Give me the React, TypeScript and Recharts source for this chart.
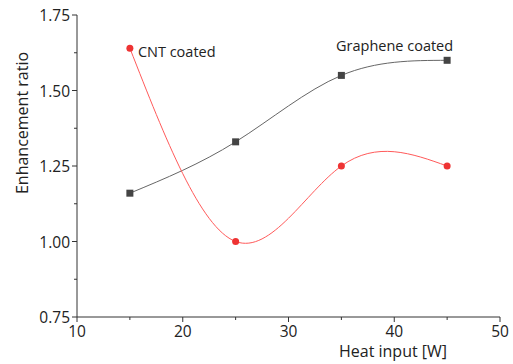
import { LineChart, Line, XAxis, YAxis, ReferenceDot } from "recharts";

const heatInput = [15, 25, 35, 45];
const cntCoated = [1.64, 1.0, 1.25, 1.25];
const grapheneCoated = [1.16, 1.33, 1.55, 1.6];

const xTicks = [10, 15, 20, 25, 30, 35, 40, 45, 50];
const xMajor = [10, 20, 30, 40, 50];
const yTicks = [0.75, 0.875, 1.0, 1.125, 1.25, 1.375, 1.5, 1.625, 1.75];
const yMajor = [0.75, 1.0, 1.25, 1.5, 1.75];

const FONT = "'Open Sans', sans-serif";
const AXIS = "#333";

const data = heatInput.map((x, i) => ({
  heat: x,
  cnt: cntCoated[i],
  graphene: grapheneCoated[i],
}));

const XTick = (props: any) => {
  const { x, y, payload } = props;
  const major = xMajor.includes(payload.value);
  return (
    <g>
      <line x1={x} x2={x} y1={y} y2={y + (major ? 5 : 3)} stroke={AXIS} strokeWidth={1} />
      {major && (
        <text x={x} y={y + 20} textAnchor="middle" fontFamily={FONT} fontSize={15.5} fill="#222">
          {payload.value}
        </text>
      )}
    </g>
  );
};

const YTick = (props: any) => {
  const { x, y, payload } = props;
  const major = yMajor.includes(payload.value);
  return (
    <g>
      <line x1={x} x2={x - (major ? 5 : 3)} y1={y} y2={y} stroke={AXIS} strokeWidth={1} />
      {major && (
        <text x={x - 7} y={y + 6} textAnchor="end" fontFamily={FONT} fontSize={15.5} fill="#222">
          {payload.value.toFixed(2)}
        </text>
      )}
    </g>
  );
};

const SquareDot = (props: any) => {
  const { cx, cy, index } = props;
  return <rect key={index} x={cx - 3.5} y={cy - 3.5} width={7} height={7} fill="#444" />;
};

export default function App() {
  return (
    <div style={{ position: "absolute", left: 0, top: 0 }}>
      <LineChart width={513} height={364} data={data} margin={{ top: 15, right: 13, bottom: 0, left: 17 }}>
        <XAxis
          dataKey="heat"
          type="number"
          domain={[10, 50]}
          ticks={xTicks}
          tick={<XTick />}
          tickLine={false}
          tickSize={0}
          tickMargin={0}
          height={47}
          stroke={AXIS}
          interval={0}
          label={{
            content: () => (
              <text x={393} y={357} textAnchor="middle" fontFamily={FONT} fontSize={16} fill="#222">
                Heat input [W]
              </text>
            ),
          }}
        />
        <YAxis
          type="number"
          domain={[0.75, 1.75]}
          ticks={yTicks}
          tick={<YTick />}
          tickLine={false}
          tickSize={0}
          tickMargin={0}
          width={60}
          stroke={AXIS}
          interval={0}
          label={{
            content: () => (
              <text
                x={22}
                y={123}
                transform="rotate(-90 22 123)"
                textAnchor="middle"
                dominantBaseline="central"
                fontFamily={FONT}
                fontSize={16}
                fill="#222"
              >
                Enhancement ratio
              </text>
            ),
          }}
        />
        <Line
          dataKey="graphene"
          type="natural"
          stroke="#666"
          strokeWidth={1}
          dot={<SquareDot />}
          isAnimationActive={false}
        />
        <Line
          dataKey="cnt"
          type="natural"
          stroke="#ff5a5a"
          strokeWidth={1}
          dot={{ r: 3.5, fill: "#ee3333", stroke: "none" }}
          isAnimationActive={false}
        />
        <ReferenceDot
          x={15}
          y={1.64}
          r={0}
          stroke="none"
          label={{
            content: (p: any) => (
              <text x={p.viewBox.x + 8} y={p.viewBox.y + 9} fontFamily={FONT} fontSize={14.5} fill="#222">
                CNT coated
              </text>
            ),
          }}
        />
        <ReferenceDot
          x={45}
          y={1.6}
          r={0}
          stroke="none"
          label={{
            content: (p: any) => (
              <text x={p.viewBox.x + 6} y={p.viewBox.y - 9} textAnchor="end" fontFamily={FONT} fontSize={14.5} fill="#222">
                Graphene coated
              </text>
            ),
          }}
        />
      </LineChart>
    </div>
  );
}
